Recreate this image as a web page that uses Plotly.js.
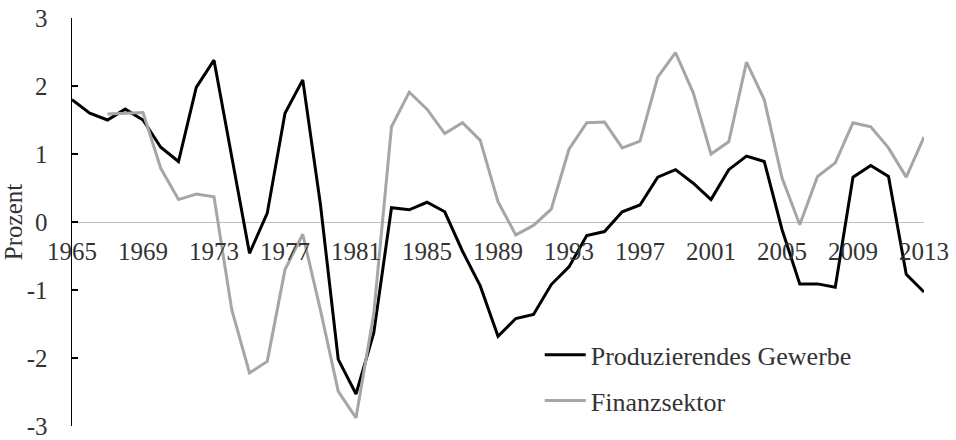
<!DOCTYPE html>
<html>
<head>
<meta charset="utf-8">
<script src="https://cdn.plot.ly/plotly-3.0.1.min.js"></script>
<style>html,body{margin:0;padding:0;background:#fff;}#chart{width:956px;height:440px;}</style>
</head>
<body>
<div id="chart"></div>
<script>
const years = [1965,1966,1967,1968,1969,1970,1971,1972,1973,1974,1975,1976,1977,1978,1979,1980,1981,1982,1983,1984,1985,1986,1987,1988,1989,1990,1991,1992,1993,1994,1995,1996,1997,1998,1999,2000,2001,2002,2003,2004,2005,2006,2007,2008,2009,2010,2011,2012,2013];
const produzierendesGewerbe = [1.80,1.60,1.50,1.66,1.50,1.10,0.89,1.98,2.38,0.95,-0.46,0.13,1.60,2.09,0.25,-2.02,-2.53,-1.63,0.21,0.18,0.29,0.15,-0.43,-0.94,-1.68,-1.42,-1.36,-0.92,-0.66,-0.20,-0.14,0.15,0.25,0.66,0.77,0.57,0.33,0.77,0.97,0.89,-0.11,-0.91,-0.91,-0.96,0.66,0.83,0.67,-0.77,-1.03];
const finanzsektor = [null,null,1.59,1.60,1.61,0.79,0.33,0.41,0.37,-1.29,-2.22,-2.05,-0.70,-0.18,-1.30,-2.49,-2.88,-1.35,1.40,1.91,1.66,1.30,1.46,1.20,0.30,-0.19,-0.05,0.19,1.07,1.46,1.47,1.09,1.19,2.13,2.49,1.90,1.00,1.18,2.35,1.80,0.65,-0.04,0.67,0.87,1.46,1.40,1.09,0.66,1.25];
const seriesNames = ["Produzierendes Gewerbe","Finanzsektor"];
const xTickVals = [1965,1969,1973,1977,1981,1985,1989,1993,1997,2001,2005,2009,2013];
const yTickVals = [-3,-2,-1,0,1,2,3];

const FONT = "'Liberation Serif', 'Times New Roman', serif";
const TXT = "#333333";

const traces = [
  {x: years, y: produzierendesGewerbe, name: seriesNames[0], type: "scatter", mode: "lines",
   line: {color: "#000000", width: 3}, legendgroup: "a"},
  {x: years, y: finanzsektor, name: seriesNames[1], type: "scatter", mode: "lines",
   line: {color: "#a6a6a6", width: 3}, legendgroup: "b", connectgaps: false}
];

const layout = {
  width: 956, height: 440,
  margin: {l: 72, r: 32, t: 18, b: 14, autoexpand: false},
  paper_bgcolor: "#ffffff", plot_bgcolor: "#ffffff",
  font: {family: FONT, size: 25, color: TXT},
  showlegend: true,
  legend: {x: 0.549, y: 0.232, xanchor: "left", yanchor: "top", bgcolor: "rgba(0,0,0,0)",
           font: {family: FONT, size: 26, color: TXT}, traceorder: "grouped", tracegroupgap: 9,
           itemwidth: 41},
  xaxis: {range: [1965, 2013], tickvals: xTickVals, ticktext: xTickVals.map(String),
          showgrid: false, zeroline: false, showline: false, ticks: "", automargin: false,
          anchor: "free", position: 0.5, tickfont: {family: FONT, size: 25, color: TXT},
          ticklabelstandoff: 12, ticklabeloverflow: "allow", fixedrange: true},
  yaxis: {range: [-3, 3], tickvals: yTickVals, ticktext: yTickVals.map(String),
          showgrid: false, zeroline: true, zerolinecolor: "#bfbfbf", zerolinewidth: 1,
          showline: true, linecolor: "#000000", linewidth: 1.5, automargin: false,
          ticks: "inside", ticklen: 6, tickcolor: "#000000", tickwidth: 1.5,
          tickfont: {family: FONT, size: 25, color: TXT}, ticklabelstandoff: 18,
          ticklabeloverflow: "allow",
          title: {text: "Prozent", font: {family: FONT, size: 25, color: TXT}, standoff: 4},
          fixedrange: true}
};

Plotly.newPlot("chart", traces, layout, {displayModeBar: false, staticPlot: true});
</script>
</body>
</html>
